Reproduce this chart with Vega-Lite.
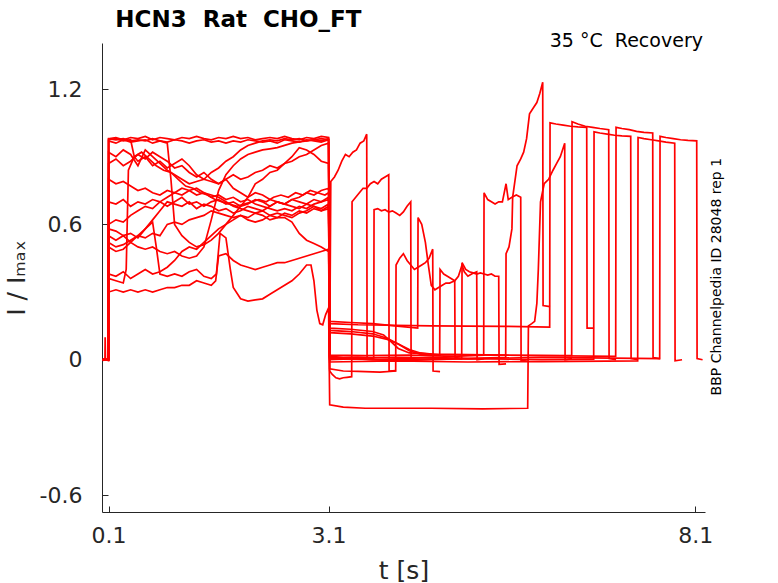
{
  "$schema": "https://vega.github.io/schema/vega-lite/v6.json",
  "width": 603,
  "height": 469,
  "autosize": {"type": "none"},
  "padding": {"left": 102, "top": 43, "right": 73, "bottom": 71},
  "background": "white",
  "config": {"view": {"stroke": null}, "font": "DejaVu Sans"},
  "data": {
    "values": [
      {"s":0,"t":0.02,"v":0},{"s":0,"t":0.05,"v":0.002},{"s":0,"t":0.053,"v":0.1},{"s":0,"t":0.057,"v":0.003},{"s":0,"t":0.098,"v":0},
      {"s":0,"t":0.1,"v":0.98},{"s":0,"t":0.2,"v":0.985},{"s":0,"t":0.3,"v":0.975},{"s":0,"t":0.4,"v":0.985},{"s":0,"t":0.5,"v":0.98},{"s":0,"t":0.6,"v":0.99},{"s":0,"t":0.7,"v":0.975},{"s":0,"t":0.8,"v":0.985},{"s":0,"t":0.9,"v":0.98},{"s":0,"t":1,"v":0.975},{"s":0,"t":1.1,"v":0.985},{"s":0,"t":1.2,"v":0.98},{"s":0,"t":1.3,"v":0.99},{"s":0,"t":1.4,"v":0.98},{"s":0,"t":1.5,"v":0.975},{"s":0,"t":1.6,"v":0.985},{"s":0,"t":1.7,"v":0.98},{"s":0,"t":1.8,"v":0.99},{"s":0,"t":1.9,"v":0.98},{"s":0,"t":2,"v":0.985},{"s":0,"t":2.1,"v":0.975},{"s":0,"t":2.2,"v":0.98},{"s":0,"t":2.3,"v":0.985},{"s":0,"t":2.4,"v":0.98},{"s":0,"t":2.5,"v":0.99},{"s":0,"t":2.6,"v":0.98},{"s":0,"t":2.7,"v":0.975},{"s":0,"t":2.8,"v":0.985},{"s":0,"t":2.9,"v":0.98},{"s":0,"t":3,"v":0.99},{"s":0,"t":3.1,"v":0.985},
      {"s":0,"t":3.115,"v":0.01},{"s":0,"t":3.13,"v":0.79},{"s":0,"t":3.18,"v":0.81},{"s":0,"t":3.23,"v":0.84},{"s":0,"t":3.28,"v":0.88},{"s":0,"t":3.33,"v":0.91},{"s":0,"t":3.38,"v":0.9},{"s":0,"t":3.43,"v":0.92},{"s":0,"t":3.48,"v":0.93},{"s":0,"t":3.53,"v":0.96},{"s":0,"t":3.58,"v":0.97},{"s":0,"t":3.62,"v":1.0},{"s":0,"t":3.625,"v":0.01},{"s":0,"t":3.72,"v":0.005},

      {"s":1,"t":0.02,"v":0.003},{"s":1,"t":0.098,"v":-0.002},
      {"s":1,"t":0.1,"v":0.97},{"s":1,"t":0.2,"v":0.96},{"s":1,"t":0.3,"v":0.975},{"s":1,"t":0.4,"v":0.965},{"s":1,"t":0.5,"v":0.97},{"s":1,"t":0.6,"v":0.975},{"s":1,"t":0.7,"v":0.96},{"s":1,"t":0.8,"v":0.97},{"s":1,"t":0.9,"v":0.965},{"s":1,"t":1,"v":0.975},{"s":1,"t":1.1,"v":0.97},{"s":1,"t":1.2,"v":0.96},{"s":1,"t":1.3,"v":0.97},{"s":1,"t":1.4,"v":0.975},{"s":1,"t":1.5,"v":0.965},{"s":1,"t":1.6,"v":0.97},{"s":1,"t":1.7,"v":0.96},{"s":1,"t":1.8,"v":0.97},{"s":1,"t":1.9,"v":0.965},{"s":1,"t":2,"v":0.975},{"s":1,"t":2.1,"v":0.97},{"s":1,"t":2.2,"v":0.965},{"s":1,"t":2.3,"v":0.97},{"s":1,"t":2.4,"v":0.96},{"s":1,"t":2.5,"v":0.975},{"s":1,"t":2.6,"v":0.97},{"s":1,"t":2.7,"v":0.965},{"s":1,"t":2.8,"v":0.975},{"s":1,"t":2.9,"v":0.97},{"s":1,"t":3,"v":0.965},{"s":1,"t":3.1,"v":0.975},
      {"s":1,"t":3.115,"v":-0.05},{"s":1,"t":3.15,"v":-0.065},{"s":1,"t":3.2,"v":-0.08},{"s":1,"t":3.25,"v":-0.085},{"s":1,"t":3.3,"v":-0.08},{"s":1,"t":3.35,"v":-0.078},{"s":1,"t":3.415,"v":-0.075},
      {"s":1,"t":3.42,"v":0.7},{"s":1,"t":3.47,"v":0.72},{"s":1,"t":3.52,"v":0.74},{"s":1,"t":3.57,"v":0.76},{"s":1,"t":3.62,"v":0.76},{"s":1,"t":3.67,"v":0.78},{"s":1,"t":3.72,"v":0.79},{"s":1,"t":3.77,"v":0.78},{"s":1,"t":3.82,"v":0.8},{"s":1,"t":3.87,"v":0.81},{"s":1,"t":3.92,"v":0.82},{"s":1,"t":3.925,"v":-0.05},{"s":1,"t":4.02,"v":-0.048},

      {"s":2,"t":0.02,"v":-0.003},{"s":2,"t":0.098,"v":0.002},
      {"s":2,"t":0.1,"v":0.92},{"s":2,"t":0.2,"v":0.9},{"s":2,"t":0.3,"v":0.93},{"s":2,"t":0.4,"v":0.91},{"s":2,"t":0.5,"v":0.86},{"s":2,"t":0.6,"v":0.93},{"s":2,"t":0.7,"v":0.9},{"s":2,"t":0.8,"v":0.87},{"s":2,"t":0.9,"v":0.84},{"s":2,"t":1,"v":0.82},{"s":2,"t":1.1,"v":0.8},{"s":2,"t":1.2,"v":0.78},{"s":2,"t":1.3,"v":0.79},{"s":2,"t":1.4,"v":0.8},{"s":2,"t":1.5,"v":0.83},{"s":2,"t":1.6,"v":0.85},{"s":2,"t":1.7,"v":0.88},{"s":2,"t":1.8,"v":0.9},{"s":2,"t":1.9,"v":0.93},{"s":2,"t":2,"v":0.95},{"s":2,"t":2.1,"v":0.96},{"s":2,"t":2.2,"v":0.97},{"s":2,"t":2.3,"v":0.975},{"s":2,"t":2.4,"v":0.97},{"s":2,"t":2.5,"v":0.98},{"s":2,"t":2.6,"v":0.975},{"s":2,"t":2.7,"v":0.98},{"s":2,"t":2.8,"v":0.97},{"s":2,"t":2.9,"v":0.975},{"s":2,"t":3,"v":0.98},{"s":2,"t":3.1,"v":0.975},
      {"s":2,"t":3.115,"v":0.015},{"s":2,"t":3.3,"v":0.01},{"s":2,"t":3.5,"v":0.012},{"s":2,"t":3.715,"v":0.008},
      {"s":2,"t":3.72,"v":0.665},{"s":2,"t":3.77,"v":0.67},{"s":2,"t":3.82,"v":0.66},{"s":2,"t":3.87,"v":0.665},{"s":2,"t":3.92,"v":0.655},{"s":2,"t":3.97,"v":0.66},{"s":2,"t":4.02,"v":0.65},{"s":2,"t":4.07,"v":0.64},{"s":2,"t":4.12,"v":0.655},{"s":2,"t":4.17,"v":0.68},{"s":2,"t":4.22,"v":0.7},{"s":2,"t":4.225,"v":0.005},{"s":2,"t":4.32,"v":0},

      {"s":3,"t":0.02,"v":0.002},{"s":3,"t":0.098,"v":0},
      {"s":3,"t":0.1,"v":0.975},{"s":3,"t":0.2,"v":0.98},{"s":3,"t":0.3,"v":0.97},{"s":3,"t":0.4,"v":0.975},{"s":3,"t":0.45,"v":0.9},{"s":3,"t":0.5,"v":0.88},{"s":3,"t":0.6,"v":0.9},{"s":3,"t":0.7,"v":0.86},{"s":3,"t":0.8,"v":0.88},{"s":3,"t":0.9,"v":0.85},{"s":3,"t":1,"v":0.87},{"s":3,"t":1.1,"v":0.89},{"s":3,"t":1.2,"v":0.86},{"s":3,"t":1.3,"v":0.82},{"s":3,"t":1.4,"v":0.8},{"s":3,"t":1.5,"v":0.79},{"s":3,"t":1.6,"v":0.78},{"s":3,"t":1.7,"v":0.8},{"s":3,"t":1.8,"v":0.76},{"s":3,"t":1.9,"v":0.74},{"s":3,"t":2,"v":0.72},{"s":3,"t":2.1,"v":0.78},{"s":3,"t":2.2,"v":0.8},{"s":3,"t":2.3,"v":0.83},{"s":3,"t":2.4,"v":0.84},{"s":3,"t":2.5,"v":0.87},{"s":3,"t":2.6,"v":0.9},{"s":3,"t":2.7,"v":0.94},{"s":3,"t":2.8,"v":0.93},{"s":3,"t":2.9,"v":0.91},{"s":3,"t":3,"v":0.88},{"s":3,"t":3.1,"v":0.87},
      {"s":3,"t":3.115,"v":-0.04},{"s":3,"t":3.3,"v":-0.05},{"s":3,"t":3.5,"v":-0.052},{"s":3,"t":3.8,"v":-0.055},{"s":3,"t":4.015,"v":-0.05},
      {"s":3,"t":4.02,"v":0.42},{"s":3,"t":4.07,"v":0.45},{"s":3,"t":4.12,"v":0.47},{"s":3,"t":4.17,"v":0.44},{"s":3,"t":4.22,"v":0.42},{"s":3,"t":4.27,"v":0.4},{"s":3,"t":4.32,"v":0.41},{"s":3,"t":4.37,"v":0.42},{"s":3,"t":4.42,"v":0.43},{"s":3,"t":4.47,"v":0.45},{"s":3,"t":4.52,"v":0.49},{"s":3,"t":4.525,"v":-0.05},{"s":3,"t":4.62,"v":-0.053},

      {"s":4,"t":0.02,"v":-0.002},{"s":4,"t":0.098,"v":0.003},
      {"s":4,"t":0.1,"v":0.7},{"s":4,"t":0.2,"v":0.69},{"s":4,"t":0.3,"v":0.71},{"s":4,"t":0.4,"v":0.68},{"s":4,"t":0.5,"v":0.7},{"s":4,"t":0.6,"v":0.69},{"s":4,"t":0.7,"v":0.71},{"s":4,"t":0.8,"v":0.7},{"s":4,"t":0.9,"v":0.68},{"s":4,"t":1,"v":0.7},{"s":4,"t":1.1,"v":0.72},{"s":4,"t":1.2,"v":0.69},{"s":4,"t":1.3,"v":0.7},{"s":4,"t":1.4,"v":0.68},{"s":4,"t":1.5,"v":0.7},{"s":4,"t":1.6,"v":0.71},{"s":4,"t":1.7,"v":0.69},{"s":4,"t":1.8,"v":0.7},{"s":4,"t":1.9,"v":0.68},{"s":4,"t":2,"v":0.69},{"s":4,"t":2.1,"v":0.71},{"s":4,"t":2.2,"v":0.7},{"s":4,"t":2.3,"v":0.68},{"s":4,"t":2.4,"v":0.7},{"s":4,"t":2.5,"v":0.69},{"s":4,"t":2.6,"v":0.71},{"s":4,"t":2.7,"v":0.7},{"s":4,"t":2.8,"v":0.69},{"s":4,"t":2.9,"v":0.71},{"s":4,"t":3,"v":0.7},{"s":4,"t":3.1,"v":0.72},
      {"s":4,"t":3.115,"v":0.17},{"s":4,"t":3.4,"v":0.165},{"s":4,"t":3.7,"v":0.16},{"s":4,"t":4,"v":0.15},{"s":4,"t":4.315,"v":0.14},
      {"s":4,"t":4.32,"v":0.63},{"s":4,"t":4.37,"v":0.6},{"s":4,"t":4.42,"v":0.52},{"s":4,"t":4.46,"v":0.42},{"s":4,"t":4.5,"v":0.33},{"s":4,"t":4.55,"v":0.31},{"s":4,"t":4.6,"v":0.32},{"s":4,"t":4.65,"v":0.33},{"s":4,"t":4.7,"v":0.34},{"s":4,"t":4.75,"v":0.34},{"s":4,"t":4.82,"v":0.35},{"s":4,"t":4.825,"v":0.01},{"s":4,"t":4.92,"v":0.005},

      {"s":5,"t":0.02,"v":0.001},{"s":5,"t":0.098,"v":-0.003},
      {"s":5,"t":0.1,"v":0.8},{"s":5,"t":0.2,"v":0.78},{"s":5,"t":0.3,"v":0.79},{"s":5,"t":0.4,"v":0.77},{"s":5,"t":0.5,"v":0.75},{"s":5,"t":0.6,"v":0.76},{"s":5,"t":0.7,"v":0.74},{"s":5,"t":0.8,"v":0.73},{"s":5,"t":0.9,"v":0.75},{"s":5,"t":1,"v":0.74},{"s":5,"t":1.1,"v":0.76},{"s":5,"t":1.2,"v":0.75},{"s":5,"t":1.3,"v":0.73},{"s":5,"t":1.4,"v":0.74},{"s":5,"t":1.5,"v":0.72},{"s":5,"t":1.6,"v":0.73},{"s":5,"t":1.7,"v":0.71},{"s":5,"t":1.8,"v":0.72},{"s":5,"t":1.9,"v":0.7},{"s":5,"t":2,"v":0.71},{"s":5,"t":2.1,"v":0.69},{"s":5,"t":2.2,"v":0.68},{"s":5,"t":2.3,"v":0.67},{"s":5,"t":2.4,"v":0.66},{"s":5,"t":2.5,"v":0.67},{"s":5,"t":2.6,"v":0.66},{"s":5,"t":2.7,"v":0.68},{"s":5,"t":2.8,"v":0.67},{"s":5,"t":2.9,"v":0.69},{"s":5,"t":3,"v":0.7},{"s":5,"t":3.1,"v":0.71},
      {"s":5,"t":3.115,"v":0.12},{"s":5,"t":3.4,"v":0.115},{"s":5,"t":3.7,"v":0.105},{"s":5,"t":3.9,"v":0.09},{"s":5,"t":4.05,"v":0.07},{"s":5,"t":4.2,"v":0.04},{"s":5,"t":4.35,"v":0.025},{"s":5,"t":4.615,"v":0.02},
      {"s":5,"t":4.62,"v":0.4},{"s":5,"t":4.67,"v":0.38},{"s":5,"t":4.72,"v":0.37},{"s":5,"t":4.77,"v":0.36},{"s":5,"t":4.82,"v":0.35},{"s":5,"t":4.87,"v":0.37},{"s":5,"t":4.92,"v":0.42},{"s":5,"t":4.95,"v":0.39},{"s":5,"t":5,"v":0.37},{"s":5,"t":5.05,"v":0.38},{"s":5,"t":5.12,"v":0.39},{"s":5,"t":5.125,"v":0},{"s":5,"t":5.22,"v":0.005},

      {"s":6,"t":0.02,"v":0},{"s":6,"t":0.098,"v":0.002},
      {"s":6,"t":0.1,"v":0.6},{"s":6,"t":0.2,"v":0.62},{"s":6,"t":0.3,"v":0.61},{"s":6,"t":0.4,"v":0.64},{"s":6,"t":0.5,"v":0.66},{"s":6,"t":0.6,"v":0.68},{"s":6,"t":0.7,"v":0.67},{"s":6,"t":0.8,"v":0.7},{"s":6,"t":0.9,"v":0.72},{"s":6,"t":1,"v":0.74},{"s":6,"t":1.1,"v":0.73},{"s":6,"t":1.2,"v":0.75},{"s":6,"t":1.3,"v":0.76},{"s":6,"t":1.4,"v":0.74},{"s":6,"t":1.5,"v":0.73},{"s":6,"t":1.6,"v":0.72},{"s":6,"t":1.7,"v":0.7},{"s":6,"t":1.8,"v":0.68},{"s":6,"t":1.9,"v":0.67},{"s":6,"t":2,"v":0.66},{"s":6,"t":2.1,"v":0.65},{"s":6,"t":2.2,"v":0.66},{"s":6,"t":2.3,"v":0.64},{"s":6,"t":2.4,"v":0.65},{"s":6,"t":2.5,"v":0.64},{"s":6,"t":2.6,"v":0.63},{"s":6,"t":2.7,"v":0.65},{"s":6,"t":2.8,"v":0.66},{"s":6,"t":2.9,"v":0.68},{"s":6,"t":3,"v":0.67},{"s":6,"t":3.1,"v":0.69},
      {"s":6,"t":3.115,"v":0},{"s":6,"t":3.5,"v":0.005},{"s":6,"t":4,"v":-0.005},{"s":6,"t":4.5,"v":0},{"s":6,"t":4.915,"v":0.005},
      {"s":6,"t":4.92,"v":0.43},{"s":6,"t":4.97,"v":0.4},{"s":6,"t":5.02,"v":0.39},{"s":6,"t":5.07,"v":0.385},{"s":6,"t":5.12,"v":0.38},{"s":6,"t":5.17,"v":0.385},{"s":6,"t":5.22,"v":0.38},{"s":6,"t":5.27,"v":0.375},{"s":6,"t":5.32,"v":0.38},{"s":6,"t":5.37,"v":0.37},{"s":6,"t":5.42,"v":0.37},{"s":6,"t":5.425,"v":-0.02},{"s":6,"t":5.52,"v":-0.018},

      {"s":7,"t":0.02,"v":0.002},{"s":7,"t":0.098,"v":-0.001},
      {"s":7,"t":0.1,"v":0.58},{"s":7,"t":0.2,"v":0.57},{"s":7,"t":0.3,"v":0.55},{"s":7,"t":0.4,"v":0.56},{"s":7,"t":0.5,"v":0.54},{"s":7,"t":0.6,"v":0.58},{"s":7,"t":0.7,"v":0.62},{"s":7,"t":0.8,"v":0.66},{"s":7,"t":0.9,"v":0.7},{"s":7,"t":1,"v":0.69},{"s":7,"t":1.1,"v":0.68},{"s":7,"t":1.2,"v":0.7},{"s":7,"t":1.3,"v":0.67},{"s":7,"t":1.4,"v":0.69},{"s":7,"t":1.5,"v":0.68},{"s":7,"t":1.6,"v":0.66},{"s":7,"t":1.7,"v":0.67},{"s":7,"t":1.8,"v":0.65},{"s":7,"t":1.9,"v":0.66},{"s":7,"t":2,"v":0.68},{"s":7,"t":2.1,"v":0.67},{"s":7,"t":2.2,"v":0.66},{"s":7,"t":2.3,"v":0.68},{"s":7,"t":2.4,"v":0.7},{"s":7,"t":2.5,"v":0.69},{"s":7,"t":2.6,"v":0.71},{"s":7,"t":2.7,"v":0.72},{"s":7,"t":2.8,"v":0.74},{"s":7,"t":2.9,"v":0.73},{"s":7,"t":3,"v":0.75},{"s":7,"t":3.1,"v":0.76},
      {"s":7,"t":3.115,"v":0.02},{"s":7,"t":3.6,"v":0.018},{"s":7,"t":4.2,"v":0.02},{"s":7,"t":4.8,"v":0.015},{"s":7,"t":5.215,"v":0.02},
      {"s":7,"t":5.22,"v":0.74},{"s":7,"t":5.27,"v":0.71},{"s":7,"t":5.32,"v":0.7},{"s":7,"t":5.37,"v":0.69},{"s":7,"t":5.42,"v":0.7},{"s":7,"t":5.47,"v":0.7},{"s":7,"t":5.52,"v":0.78},{"s":7,"t":5.55,"v":0.71},{"s":7,"t":5.6,"v":0.72},{"s":7,"t":5.66,"v":0.73},{"s":7,"t":5.72,"v":0.72},{"s":7,"t":5.725,"v":-0.005},{"s":7,"t":5.82,"v":0},

      {"s":8,"t":0.02,"v":-0.001},{"s":8,"t":0.098,"v":0.001},
      {"s":8,"t":0.1,"v":0.52},{"s":8,"t":0.2,"v":0.5},{"s":8,"t":0.3,"v":0.51},{"s":8,"t":0.4,"v":0.53},{"s":8,"t":0.5,"v":0.55},{"s":8,"t":0.6,"v":0.54},{"s":8,"t":0.7,"v":0.56},{"s":8,"t":0.8,"v":0.55},{"s":8,"t":0.9,"v":0.6},{"s":8,"t":1,"v":0.61},{"s":8,"t":1.1,"v":0.6},{"s":8,"t":1.2,"v":0.62},{"s":8,"t":1.3,"v":0.63},{"s":8,"t":1.4,"v":0.64},{"s":8,"t":1.5,"v":0.66},{"s":8,"t":1.6,"v":0.65},{"s":8,"t":1.7,"v":0.64},{"s":8,"t":1.8,"v":0.63},{"s":8,"t":1.9,"v":0.64},{"s":8,"t":2,"v":0.62},{"s":8,"t":2.1,"v":0.61},{"s":8,"t":2.2,"v":0.62},{"s":8,"t":2.3,"v":0.64},{"s":8,"t":2.4,"v":0.63},{"s":8,"t":2.5,"v":0.63},{"s":8,"t":2.6,"v":0.61},{"s":8,"t":2.7,"v":0.56},{"s":8,"t":2.8,"v":0.53},{"s":8,"t":2.9,"v":0.515},{"s":8,"t":3,"v":0.5},{"s":8,"t":3.1,"v":0.48},
      {"s":8,"t":3.115,"v":0.01},{"s":8,"t":3.7,"v":0},{"s":8,"t":4.5,"v":0.01},{"s":8,"t":5,"v":0.005},{"s":8,"t":5.515,"v":0.01},
      {"s":8,"t":5.52,"v":0.47},{"s":8,"t":5.56,"v":0.5},{"s":8,"t":5.6,"v":0.58},{"s":8,"t":5.61,"v":0.72},{"s":8,"t":5.67,"v":0.86},{"s":8,"t":5.72,"v":0.89},{"s":8,"t":5.76,"v":0.92},{"s":8,"t":5.8,"v":0.98},{"s":8,"t":5.84,"v":1.09},{"s":8,"t":5.9,"v":1.12},{"s":8,"t":5.94,"v":1.14},{"s":8,"t":5.98,"v":1.18},{"s":8,"t":6.02,"v":1.23},{"s":8,"t":6.025,"v":0.24},{"s":8,"t":6.12,"v":0.235},

      {"s":9,"t":0.02,"v":0.001},{"s":9,"t":0.098,"v":0},
      {"s":9,"t":0.1,"v":0.5},{"s":9,"t":0.2,"v":0.48},{"s":9,"t":0.3,"v":0.49},{"s":9,"t":0.4,"v":0.52},{"s":9,"t":0.5,"v":0.55},{"s":9,"t":0.6,"v":0.58},{"s":9,"t":0.7,"v":0.61},{"s":9,"t":0.75,"v":0.5},{"s":9,"t":0.8,"v":0.38},{"s":9,"t":0.9,"v":0.37},{"s":9,"t":1,"v":0.38},{"s":9,"t":1.1,"v":0.37},{"s":9,"t":1.2,"v":0.39},{"s":9,"t":1.3,"v":0.4},{"s":9,"t":1.4,"v":0.37},{"s":9,"t":1.5,"v":0.36},{"s":9,"t":1.57,"v":0.38},{"s":9,"t":1.62,"v":0.56},{"s":9,"t":1.7,"v":0.54},{"s":9,"t":1.76,"v":0.4},{"s":9,"t":1.8,"v":0.32},{"s":9,"t":1.9,"v":0.27},{"s":9,"t":2,"v":0.26},{"s":9,"t":2.1,"v":0.265},{"s":9,"t":2.2,"v":0.27},{"s":9,"t":2.3,"v":0.29},{"s":9,"t":2.4,"v":0.31},{"s":9,"t":2.5,"v":0.33},{"s":9,"t":2.6,"v":0.35},{"s":9,"t":2.7,"v":0.38},{"s":9,"t":2.8,"v":0.42},{"s":9,"t":2.86,"v":0.42},{"s":9,"t":2.9,"v":0.35},{"s":9,"t":2.94,"v":0.22},{"s":9,"t":2.98,"v":0.16},{"s":9,"t":3.02,"v":0.155},{"s":9,"t":3.06,"v":0.2},{"s":9,"t":3.1,"v":0.23},
      {"s":9,"t":3.115,"v":-0.2},{"s":9,"t":3.3,"v":-0.21},{"s":9,"t":3.6,"v":-0.215},{"s":9,"t":4.5,"v":-0.215},{"s":9,"t":5.2,"v":-0.218},{"s":9,"t":5.815,"v":-0.215},
      {"s":9,"t":5.825,"v":0.15},{"s":9,"t":5.87,"v":0.16},{"s":9,"t":5.91,"v":0.17},{"s":9,"t":5.94,"v":0.25},{"s":9,"t":5.96,"v":0.4},{"s":9,"t":5.99,"v":0.7},{"s":9,"t":6.04,"v":0.78},{"s":9,"t":6.1,"v":0.8},{"s":9,"t":6.16,"v":0.84},{"s":9,"t":6.21,"v":0.87},{"s":9,"t":6.26,"v":0.9},{"s":9,"t":6.32,"v":0.96},{"s":9,"t":6.325,"v":0},{"s":9,"t":6.42,"v":0.005},

      {"s":10,"t":0.02,"v":-0.002},{"s":10,"t":0.098,"v":0.001},
      {"s":10,"t":0.1,"v":0.3},{"s":10,"t":0.2,"v":0.31},{"s":10,"t":0.3,"v":0.3},{"s":10,"t":0.4,"v":0.31},{"s":10,"t":0.5,"v":0.3},{"s":10,"t":0.6,"v":0.31},{"s":10,"t":0.7,"v":0.3},{"s":10,"t":0.8,"v":0.31},{"s":10,"t":0.9,"v":0.32},{"s":10,"t":1,"v":0.32},{"s":10,"t":1.1,"v":0.33},{"s":10,"t":1.2,"v":0.33},{"s":10,"t":1.3,"v":0.35},{"s":10,"t":1.4,"v":0.34},{"s":10,"t":1.5,"v":0.33},{"s":10,"t":1.56,"v":0.35},{"s":10,"t":1.6,"v":0.46},{"s":10,"t":1.7,"v":0.47},{"s":10,"t":1.8,"v":0.44},{"s":10,"t":1.9,"v":0.42},{"s":10,"t":2,"v":0.41},{"s":10,"t":2.1,"v":0.4},{"s":10,"t":2.2,"v":0.41},{"s":10,"t":2.3,"v":0.42},{"s":10,"t":2.4,"v":0.43},{"s":10,"t":2.5,"v":0.43},{"s":10,"t":2.6,"v":0.44},{"s":10,"t":2.7,"v":0.45},{"s":10,"t":2.8,"v":0.46},{"s":10,"t":2.9,"v":0.47},{"s":10,"t":3,"v":0.48},{"s":10,"t":3.1,"v":0.49},
      {"s":10,"t":3.115,"v":0.16},{"s":10,"t":3.5,"v":0.155},{"s":10,"t":4.5,"v":0.15},{"s":10,"t":5.5,"v":0.148},{"s":10,"t":6.115,"v":0.145},
      {"s":10,"t":6.12,"v":1.05},{"s":10,"t":6.2,"v":1.045},{"s":10,"t":6.3,"v":1.04},{"s":10,"t":6.4,"v":1.035},{"s":10,"t":6.5,"v":1.032},{"s":10,"t":6.62,"v":1.03},{"s":10,"t":6.625,"v":0.14},{"s":10,"t":6.72,"v":0.14},

      {"s":11,"t":0.02,"v":0.002},{"s":11,"t":0.098,"v":-0.002},
      {"s":11,"t":0.1,"v":0.36},{"s":11,"t":0.2,"v":0.35},{"s":11,"t":0.3,"v":0.34},{"s":11,"t":0.34,"v":0.4},{"s":11,"t":0.37,"v":0.84},{"s":11,"t":0.45,"v":0.9},{"s":11,"t":0.55,"v":0.92},{"s":11,"t":0.65,"v":0.89},{"s":11,"t":0.75,"v":0.86},{"s":11,"t":0.85,"v":0.84},{"s":11,"t":0.95,"v":0.83},{"s":11,"t":1.05,"v":0.8},{"s":11,"t":1.15,"v":0.77},{"s":11,"t":1.25,"v":0.76},{"s":11,"t":1.35,"v":0.74},{"s":11,"t":1.45,"v":0.73},{"s":11,"t":1.55,"v":0.71},{"s":11,"t":1.65,"v":0.7},{"s":11,"t":1.75,"v":0.69},{"s":11,"t":1.85,"v":0.68},{"s":11,"t":1.95,"v":0.69},{"s":11,"t":2.05,"v":0.7},{"s":11,"t":2.15,"v":0.71},{"s":11,"t":2.25,"v":0.7},{"s":11,"t":2.35,"v":0.72},{"s":11,"t":2.45,"v":0.73},{"s":11,"t":2.55,"v":0.72},{"s":11,"t":2.65,"v":0.74},{"s":11,"t":2.75,"v":0.73},{"s":11,"t":2.85,"v":0.75},{"s":11,"t":2.95,"v":0.74},{"s":11,"t":3.05,"v":0.73},{"s":11,"t":3.1,"v":0.74},
      {"s":11,"t":3.115,"v":0.13},{"s":11,"t":3.4,"v":0.125},{"s":11,"t":3.7,"v":0.115},{"s":11,"t":3.9,"v":0.095},{"s":11,"t":4.05,"v":0.07},{"s":11,"t":4.2,"v":0.045},{"s":11,"t":4.35,"v":0.03},{"s":11,"t":4.6,"v":0.022},{"s":11,"t":5.5,"v":0.02},{"s":11,"t":6.415,"v":0.018},
      {"s":11,"t":6.42,"v":1.055},{"s":11,"t":6.5,"v":1.045},{"s":11,"t":6.6,"v":1.035},{"s":11,"t":6.7,"v":1.03},{"s":11,"t":6.8,"v":1.025},{"s":11,"t":6.92,"v":1.02},{"s":11,"t":6.925,"v":0.005},{"s":11,"t":7.02,"v":0},

      {"s":12,"t":0.02,"v":0},{"s":12,"t":0.098,"v":0.002},
      {"s":12,"t":0.1,"v":0.98},{"s":12,"t":0.2,"v":0.975},{"s":12,"t":0.3,"v":0.98},{"s":12,"t":0.4,"v":0.97},{"s":12,"t":0.5,"v":0.975},{"s":12,"t":0.6,"v":0.97},{"s":12,"t":0.7,"v":0.98},{"s":12,"t":0.8,"v":0.97},{"s":12,"t":0.9,"v":0.96},{"s":12,"t":0.95,"v":0.8},{"s":12,"t":1,"v":0.6},{"s":12,"t":1.1,"v":0.55},{"s":12,"t":1.2,"v":0.52},{"s":12,"t":1.3,"v":0.5},{"s":12,"t":1.4,"v":0.51},{"s":12,"t":1.5,"v":0.53},{"s":12,"t":1.6,"v":0.56},{"s":12,"t":1.7,"v":0.6},{"s":12,"t":1.8,"v":0.64},{"s":12,"t":1.9,"v":0.68},{"s":12,"t":2,"v":0.72},{"s":12,"t":2.1,"v":0.74},{"s":12,"t":2.2,"v":0.73},{"s":12,"t":2.3,"v":0.71},{"s":12,"t":2.4,"v":0.7},{"s":12,"t":2.5,"v":0.69},{"s":12,"t":2.6,"v":0.68},{"s":12,"t":2.7,"v":0.67},{"s":12,"t":2.8,"v":0.69},{"s":12,"t":2.9,"v":0.68},{"s":12,"t":3,"v":0.66},{"s":12,"t":3.1,"v":0.67},
      {"s":12,"t":3.115,"v":0.005},{"s":12,"t":4,"v":0},{"s":12,"t":5,"v":0.005},{"s":12,"t":6,"v":0},{"s":12,"t":6.715,"v":0.003},
      {"s":12,"t":6.72,"v":1.01},{"s":12,"t":6.8,"v":1.005},{"s":12,"t":6.9,"v":1.0},{"s":12,"t":7,"v":0.995},{"s":12,"t":7.1,"v":0.992},{"s":12,"t":7.22,"v":0.99},{"s":12,"t":7.225,"v":0.005},{"s":12,"t":7.32,"v":0},

      {"s":13,"t":0.02,"v":-0.001},{"s":13,"t":0.098,"v":0},
      {"s":13,"t":0.1,"v":0.55},{"s":13,"t":0.2,"v":0.53},{"s":13,"t":0.3,"v":0.55},{"s":13,"t":0.4,"v":0.52},{"s":13,"t":0.5,"v":0.5},{"s":13,"t":0.6,"v":0.49},{"s":13,"t":0.7,"v":0.5},{"s":13,"t":0.8,"v":0.48},{"s":13,"t":0.9,"v":0.47},{"s":13,"t":1,"v":0.48},{"s":13,"t":1.1,"v":0.46},{"s":13,"t":1.2,"v":0.45},{"s":13,"t":1.3,"v":0.46},{"s":13,"t":1.4,"v":0.5},{"s":13,"t":1.5,"v":0.62},{"s":13,"t":1.6,"v":0.75},{"s":13,"t":1.7,"v":0.82},{"s":13,"t":1.8,"v":0.86},{"s":13,"t":1.9,"v":0.89},{"s":13,"t":2,"v":0.91},{"s":13,"t":2.1,"v":0.92},{"s":13,"t":2.2,"v":0.93},{"s":13,"t":2.3,"v":0.935},{"s":13,"t":2.4,"v":0.94},{"s":13,"t":2.5,"v":0.95},{"s":13,"t":2.6,"v":0.96},{"s":13,"t":2.7,"v":0.965},{"s":13,"t":2.8,"v":0.97},{"s":13,"t":2.9,"v":0.975},{"s":13,"t":3,"v":0.97},{"s":13,"t":3.1,"v":0.98},
      {"s":13,"t":3.115,"v":0.14},{"s":13,"t":3.4,"v":0.135},{"s":13,"t":3.7,"v":0.125},{"s":13,"t":3.85,"v":0.11},{"s":13,"t":3.95,"v":0.08},{"s":13,"t":4.05,"v":0.05},{"s":13,"t":4.2,"v":0.03},{"s":13,"t":4.5,"v":0.025},{"s":13,"t":5.5,"v":0.02},{"s":13,"t":7.015,"v":0.015},
      {"s":13,"t":7.02,"v":1.03},{"s":13,"t":7.1,"v":1.025},{"s":13,"t":7.2,"v":1.02},{"s":13,"t":7.3,"v":1.012},{"s":13,"t":7.4,"v":1.008},{"s":13,"t":7.52,"v":1.005},{"s":13,"t":7.525,"v":0.01},{"s":13,"t":7.62,"v":0.005},

      {"s":14,"t":0.02,"v":0.001},{"s":14,"t":0.098,"v":-0.001},
      {"s":14,"t":0.1,"v":0.87},{"s":14,"t":0.2,"v":0.89},{"s":14,"t":0.3,"v":0.86},{"s":14,"t":0.4,"v":0.88},{"s":14,"t":0.5,"v":0.91},{"s":14,"t":0.6,"v":0.89},{"s":14,"t":0.7,"v":0.92},{"s":14,"t":0.8,"v":0.9},{"s":14,"t":0.9,"v":0.88},{"s":14,"t":1,"v":0.85},{"s":14,"t":1.1,"v":0.86},{"s":14,"t":1.2,"v":0.83},{"s":14,"t":1.3,"v":0.81},{"s":14,"t":1.4,"v":0.83},{"s":14,"t":1.5,"v":0.8},{"s":14,"t":1.6,"v":0.78},{"s":14,"t":1.7,"v":0.8},{"s":14,"t":1.8,"v":0.82},{"s":14,"t":1.9,"v":0.8},{"s":14,"t":2,"v":0.81},{"s":14,"t":2.1,"v":0.83},{"s":14,"t":2.2,"v":0.84},{"s":14,"t":2.3,"v":0.86},{"s":14,"t":2.4,"v":0.85},{"s":14,"t":2.5,"v":0.87},{"s":14,"t":2.6,"v":0.88},{"s":14,"t":2.7,"v":0.9},{"s":14,"t":2.8,"v":0.91},{"s":14,"t":2.9,"v":0.93},{"s":14,"t":3,"v":0.95},{"s":14,"t":3.1,"v":0.96},
      {"s":14,"t":3.115,"v":-0.01},{"s":14,"t":4,"v":-0.005},{"s":14,"t":5,"v":-0.01},{"s":14,"t":6,"v":-0.008},{"s":14,"t":7.315,"v":-0.005},
      {"s":14,"t":7.32,"v":0.985},{"s":14,"t":7.4,"v":0.98},{"s":14,"t":7.5,"v":0.975},{"s":14,"t":7.6,"v":0.97},{"s":14,"t":7.7,"v":0.965},{"s":14,"t":7.82,"v":0.96},{"s":14,"t":7.825,"v":-0.005},{"s":14,"t":7.92,"v":0},

      {"s":15,"t":0.02,"v":0},{"s":15,"t":0.098,"v":0.001},
      {"s":15,"t":0.1,"v":0.38},{"s":15,"t":0.2,"v":0.37},{"s":15,"t":0.3,"v":0.39},{"s":15,"t":0.4,"v":0.36},{"s":15,"t":0.5,"v":0.38},{"s":15,"t":0.6,"v":0.4},{"s":15,"t":0.7,"v":0.38},{"s":15,"t":0.8,"v":0.39},{"s":15,"t":0.9,"v":0.41},{"s":15,"t":1,"v":0.44},{"s":15,"t":1.1,"v":0.48},{"s":15,"t":1.2,"v":0.5},{"s":15,"t":1.3,"v":0.49},{"s":15,"t":1.4,"v":0.52},{"s":15,"t":1.5,"v":0.55},{"s":15,"t":1.6,"v":0.58},{"s":15,"t":1.7,"v":0.6},{"s":15,"t":1.8,"v":0.62},{"s":15,"t":1.9,"v":0.64},{"s":15,"t":2,"v":0.63},{"s":15,"t":2.1,"v":0.65},{"s":15,"t":2.2,"v":0.64},{"s":15,"t":2.3,"v":0.62},{"s":15,"t":2.4,"v":0.63},{"s":15,"t":2.5,"v":0.65},{"s":15,"t":2.6,"v":0.64},{"s":15,"t":2.7,"v":0.66},{"s":15,"t":2.8,"v":0.65},{"s":15,"t":2.9,"v":0.67},{"s":15,"t":3,"v":0.66},{"s":15,"t":3.1,"v":0.68},
      {"s":15,"t":3.115,"v":0.005},{"s":15,"t":4,"v":0.01},{"s":15,"t":5,"v":0.005},{"s":15,"t":6,"v":0.01},{"s":15,"t":7.615,"v":0.005},
      {"s":15,"t":7.62,"v":0.99},{"s":15,"t":7.7,"v":0.985},{"s":15,"t":7.8,"v":0.98},{"s":15,"t":7.9,"v":0.975},{"s":15,"t":8,"v":0.972},{"s":15,"t":8.12,"v":0.97},{"s":15,"t":8.125,"v":0.005},{"s":15,"t":8.2,"v":0}
    ]
  },
  "layer": [
    {
      "mark": {"type": "line", "color": "#ff0000", "strokeWidth": 1.7, "clip": true},
      "encoding": {
        "x": {
          "field": "t",
          "type": "quantitative",
          "scale": {"domain": [0.01, 8.233], "nice": false, "zero": false},
          "axis": {
            "title": "t [s]",
            "values": [0.1, 3.1, 8.1],
            "format": ".1f",
            "grid": false,
            "tickSize": -6,
            "labelPadding": 19,
            "labelFontSize": 22,
            "labelColor": "#262626",
            "titleFontSize": 25,
            "titleFontWeight": "normal",
            "titleColor": "#262626",
            "titlePadding": 12,
            "domainColor": "#262626",
            "tickColor": "#262626",
            "labelFlush": false
          }
        },
        "y": {
          "field": "v",
          "type": "quantitative",
          "scale": {"domain": [-0.675, 1.404], "nice": false, "zero": false},
          "axis": {
            "title": "I / Iₘₐₓ",
            "values": [-0.6, 0, 0.6, 1.2],
            "labelExpr": "datum.value == 0 ? '0' : replace(format(datum.value, '.1f'), '−', '-')",
            "grid": false,
            "tickSize": -6,
            "labelPadding": 26,
            "labelFontSize": 22,
            "labelColor": "#262626",
            "titleFontSize": 25,
            "titleFontWeight": "normal",
            "titleColor": "#262626",
            "titlePadding": 10,
            "domainColor": "#262626",
            "tickColor": "#262626"
          }
        },
        "detail": {"field": "s", "type": "nominal"}
      }
    },
    {
      "data": {"values": [{}]},
      "mark": {"type": "text", "text": "HCN3\u00a0 Rat\u00a0 CHO_FT", "align": "left", "baseline": "alphabetic", "fontSize": 23, "fontWeight": "bold", "color": "black", "clip": false},
      "encoding": {"x": {"datum": 0.191}, "y": {"datum": 1.476}}
    },
    {
      "data": {"values": [{}]},
      "mark": {"type": "text", "text": "35 °C\u00a0 Recovery", "align": "right", "baseline": "middle", "fontSize": 19, "color": "black", "clip": false},
      "encoding": {"x": {"datum": 8.205}, "y": {"datum": 1.414}}
    },
    {
      "data": {"values": [{}]},
      "mark": {"type": "text", "text": "BBP Channelpedia ID 28048 rep 1", "angle": 270, "align": "center", "baseline": "middle", "fontSize": 14, "color": "black", "clip": false},
      "encoding": {"x": {"datum": 8.393}, "y": {"datum": 0.368}}
    }
  ]
}
